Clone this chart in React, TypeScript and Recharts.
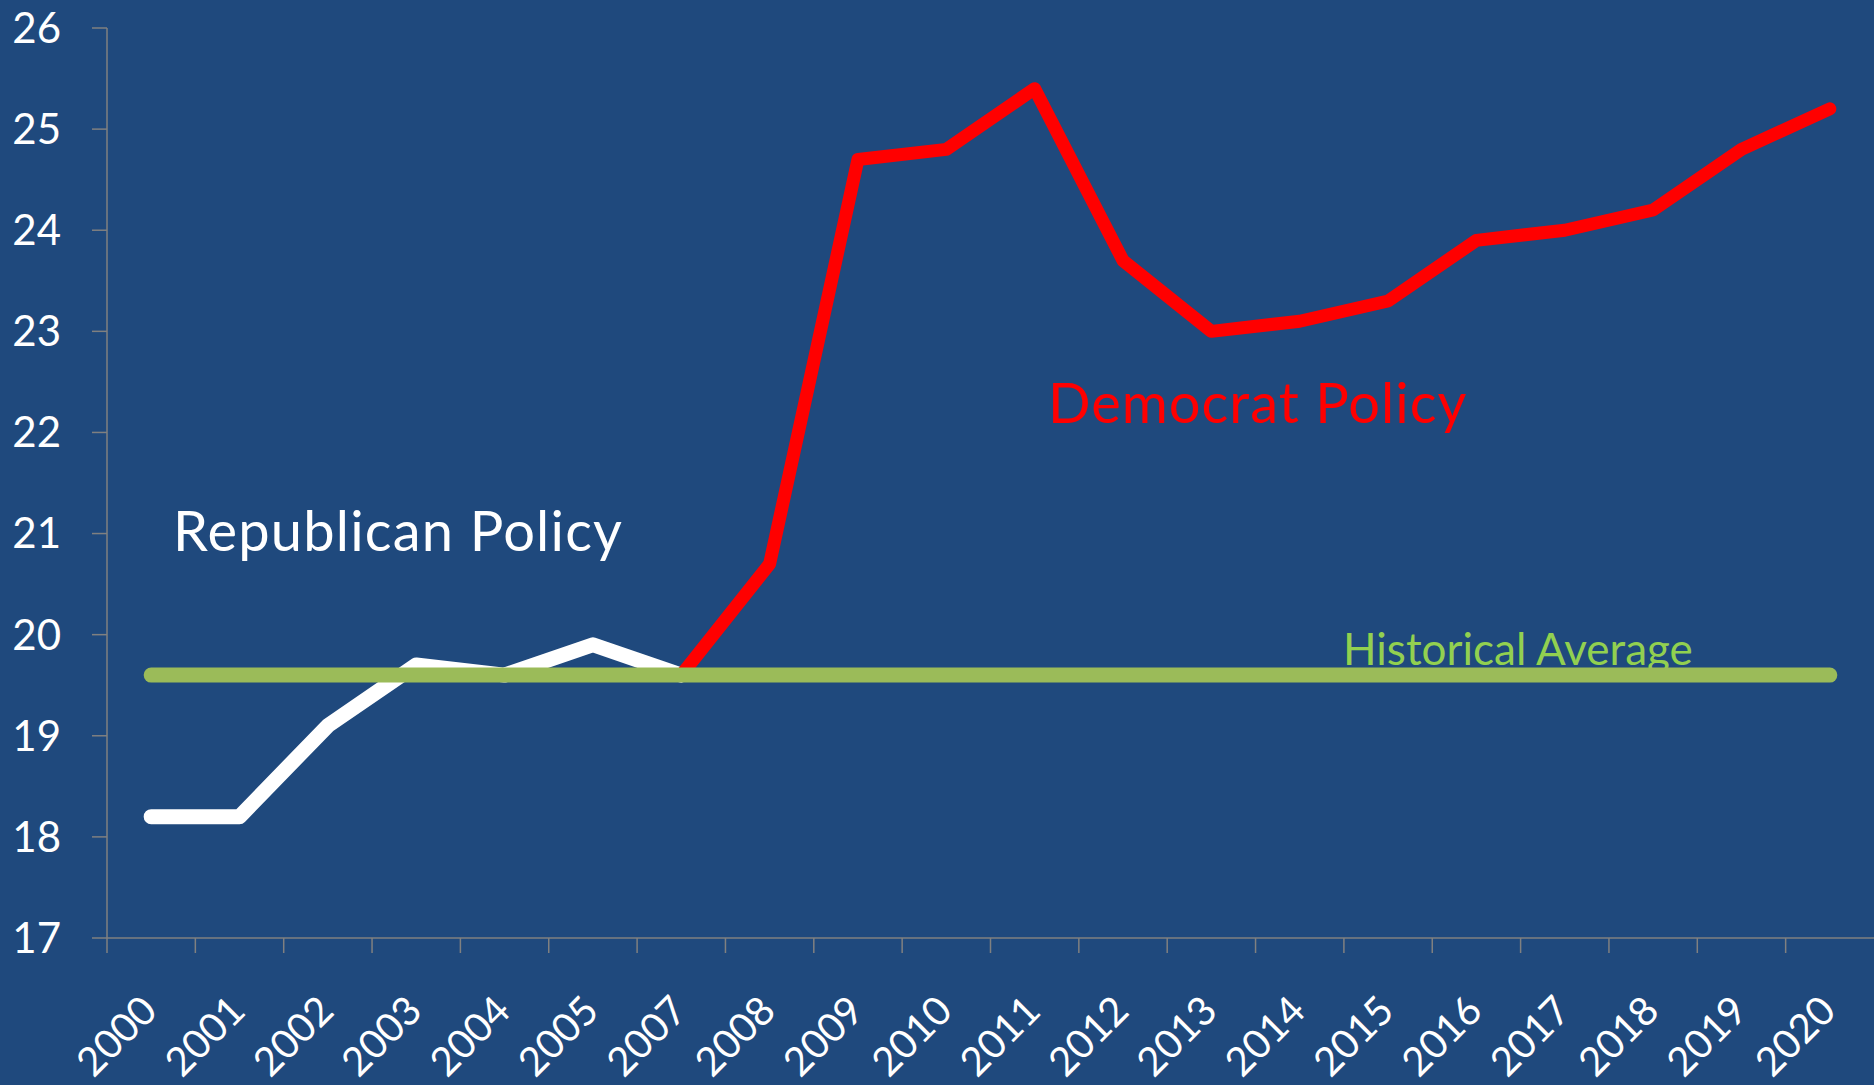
import React from 'react';
import { LineChart, Line, XAxis, YAxis, Customized } from 'recharts';

const years = ['2000', '2001', '2002', '2003', '2004', '2005', '2007', '2008', '2009', '2010', '2011', '2012', '2013', '2014', '2015', '2016', '2017', '2018', '2019', '2020'];
const republican = [18.2, 18.2, 19.1, 19.7, 19.6, 19.9, 19.6, null, null, null, null, null, null, null, null, null, null, null, null, null];
const democrat = [null, null, null, null, null, null, 19.6, 20.7, 24.7, 24.8, 25.4, 23.7, 23.0, 23.1, 23.3, 23.9, 24.0, 24.2, 24.8, 25.2];
const historicalAverage = [19.6, 19.6, 19.6, 19.6, 19.6, 19.6, 19.6, 19.6, 19.6, 19.6, 19.6, 19.6, 19.6, 19.6, 19.6, 19.6, 19.6, 19.6, 19.6, 19.6];
const yTicks = [17, 18, 19, 20, 21, 22, 23, 24, 25, 26];

const data = years.map((year, i) => ({
  idx: i,
  year,
  republican: republican[i],
  democrat: democrat[i],
  average: historicalAverage[i],
}));

const FONT = 'Lato, "Open Sans", sans-serif';
const BG = '#1F497D';
const GRAY = '#808080';

const XTick = (props: any) => {
  const { x, y, payload } = props;
  const w = typeof props.width === 'number' && props.width > 0 ? props.width : 1767;
  const half = w / years.length / 2;
  const ax = x + 8;
  const ay = y + 75;
  return (
    <g>
      <line x1={x - half} y1={y} x2={x - half} y2={y + 15} stroke={GRAY} strokeWidth={1.5} />
      <text
        x={ax}
        y={ay}
        transform={`rotate(-45, ${ax}, ${ay})`}
        textAnchor="end"
        fill="#FFFFFF"
        fontSize={40}
        fontFamily={FONT}
      >
        {years[payload.value]}
      </text>
    </g>
  );
};

const Annotations = () => (
  <g fontFamily={FONT}>
    <text x={173} y={551} fill="#FFFFFF" fontSize={56} letterSpacing={1.2}>Republican Policy</text>
    <text x={1048} y={423} fill="#FF0000" fontSize={56} letterSpacing={1}>Democrat Policy</text>
    <text x={1343} y={665} fill="#92D050" fontSize={44}>Historical Average</text>
  </g>
);

export default function App() {
  return (
    <div style={{ position: 'absolute', left: 0, top: 0, width: 1874, height: 1085, background: BG, overflow: 'hidden' }}>
      <LineChart width={1874} height={1085} data={data} margin={{ top: 28, right: 0, left: 0, bottom: 0 }}>
        <XAxis
          dataKey="idx"
          type="number"
          domain={[-0.5, years.length - 0.5]}
          ticks={years.map((_, i) => i)}
          interval={0}
          height={147}
          tickSize={0}
          tickMargin={0}
          tickLine={false}
          axisLine={{ stroke: GRAY, strokeWidth: 1.5 }}
          tick={<XTick />}
        />
        <YAxis
          type="number"
          domain={[17, 26]}
          ticks={yTicks}
          interval={0}
          width={107}
          tickSize={15}
          tickMargin={31}
          axisLine={{ stroke: GRAY, strokeWidth: 1.5 }}
          tickLine={{ stroke: GRAY, strokeWidth: 1.5 }}
          tick={{ fill: '#FFFFFF', fontSize: 42, fontFamily: FONT }}
        />
        <Line
          dataKey="republican"
          stroke="#FFFFFF"
          strokeWidth={15}
          dot={false}
          activeDot={false}
          strokeLinecap="round"
          strokeLinejoin="round"
          connectNulls={false}
          isAnimationActive={false}
        />
        <Line
          dataKey="democrat"
          stroke="#FF0000"
          strokeWidth={13}
          dot={false}
          activeDot={false}
          strokeLinecap="round"
          strokeLinejoin="round"
          connectNulls={false}
          isAnimationActive={false}
        />
        <Line
          dataKey="average"
          stroke="#9BBB59"
          strokeWidth={15}
          dot={false}
          activeDot={false}
          strokeLinecap="round"
          strokeLinejoin="round"
          isAnimationActive={false}
        />
        <Customized component={Annotations} />
      </LineChart>
    </div>
  );
}
